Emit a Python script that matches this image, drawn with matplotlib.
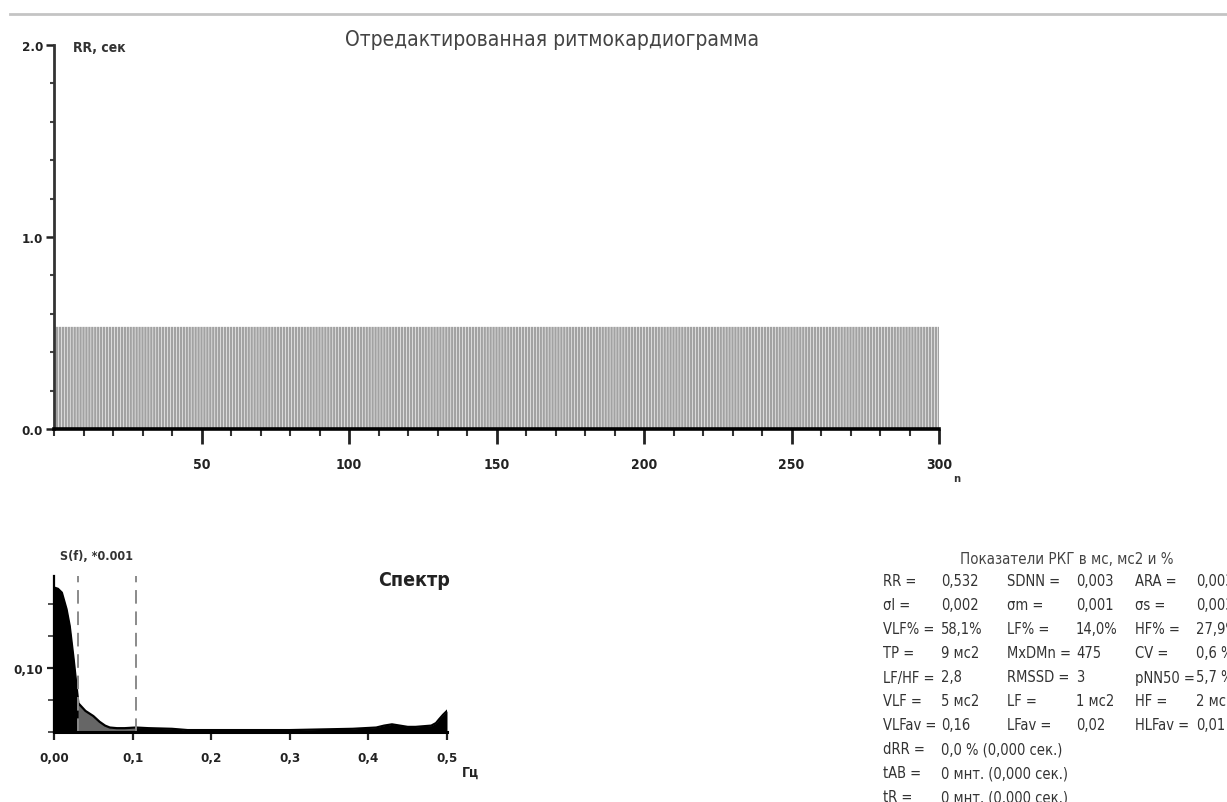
import matplotlib
matplotlib.use("Agg")
import matplotlib.pyplot as plt
from matplotlib import font_manager
from matplotlib.font_manager import FontProperties
from matplotlib.lines import Line2D
from matplotlib.ticker import MultipleLocator, FixedLocator
import numpy as np

W, H = 1227, 803

# pick a narrow face for the labels if one is installed
files = sorted(f.fname for f in font_manager.fontManager.ttflist)
narrow_reg = [p for p in files if ('Condensed' in p or 'Narrow' in p)
              and 'Bold' not in p and 'Oblique' not in p and 'Italic' not in p]
narrow_bold = [p for p in files if ('Condensed' in p or 'Narrow' in p)
               and 'Bold' in p and 'Oblique' not in p and 'Italic' not in p]
if narrow_reg and narrow_bold:
    REG = FontProperties(fname=narrow_reg[0])
    BOLD = FontProperties(fname=narrow_bold[0])
    K = 1.0
else:
    REG = FontProperties(family='Liberation Sans')
    BOLD = FontProperties(family='Liberation Sans', weight='bold')
    K = 0.82


def font(base, size):
    fp = base.copy()
    fp.set_size(size * K)
    return fp


# RR intervals in seconds, one bar per beat (flat at the mean RR)
beat_no = list(range(1, 301))
rr_sec = [0.532] * 300

# Spectrum S(f), in units of 0.001
freq_hz = [0.000, 0.005, 0.010, 0.016, 0.020, 0.025, 0.031, 0.040, 0.050, 0.058,
           0.065, 0.071, 0.080, 0.090, 0.104, 0.120, 0.150, 0.170, 0.200, 0.250,
           0.300, 0.340, 0.380, 0.410, 0.420, 0.430, 0.440, 0.450, 0.460, 0.470,
           0.480, 0.486, 0.490, 0.495, 0.500]
power = [0.226, 0.224, 0.218, 0.192, 0.166, 0.114, 0.045, 0.033, 0.025, 0.016,
         0.010, 0.007, 0.006, 0.006, 0.007, 0.006, 0.005, 0.003, 0.003, 0.003,
         0.003, 0.004, 0.005, 0.007, 0.010, 0.012, 0.010, 0.008, 0.008, 0.009,
         0.010, 0.014, 0.020, 0.027, 0.033]
vlf_edge, lf_edge = 0.031, 0.104

rr_xticks = [50, 100, 150, 200, 250, 300]
rr_yticks = [0.0, 1.0, 2.0]
rr_ylabels = ['0.0', '1.0', '2.0']
spec_xticks = [0.0, 0.1, 0.2, 0.3, 0.4, 0.5]
spec_xlabels = ['0,00', '0,1', '0,2', '0,3', '0,4', '0,5']
spec_yticks = [0.10]
spec_ylabels = ['0,10']

stat_title = 'Показатели РКГ в мс, мс2 и %'
stat_rows = [
    ['RR =', '0,532', 'SDNN =', '0,003', 'ARA =', '0,003'],
    ['σl =', '0,002', 'σm =', '0,001', 'σs =', '0,003'],
    ['VLF% =', '58,1%', 'LF% =', '14,0%', 'HF% =', '27,9%'],
    ['TP =', '9 мс2', 'MxDMn =', '475', 'CV =', '0,6 %'],
    ['LF/HF =', '2,8', 'RMSSD =', '3', 'pNN50 =', '5,7 %'],
    ['VLF =', '5 мс2', 'LF =', '1 мс2', 'HF =', '2 мс2'],
    ['VLFav =', '0,16', 'LFav =', '0,02', 'HLFav =', '0,01'],
    ['dRR =', '0,0 % (0,000 сек.)'],
    ['tAB =', '0 мнт. (0,000 сек.)'],
    ['tR =', '0 мнт. (0,000 сек.)'],
]


def fx(px):
    return px / W


def fy(py):
    return 1 - py / H


fig = plt.figure(figsize=(W / 100, H / 100), dpi=100)
fig.patch.set_facecolor('white')

# thin grey rule across the top
fig.add_artist(Line2D([fx(10), 1.0], [fy(15), fy(15)], color='#c4c4c4', lw=2))

# ---- rhythmogram ----
ax = fig.add_axes([fx(54), fy(430), fx(939 - 54), (430 - 46) / H])
bars = ax.bar(beat_no, rr_sec, width=0.8, color='#a2a2a2', linewidth=0)
for b in bars:
    b.set_snap(False)
ax.set_xlim(0, 300)
ax.set_ylim(0, 2.0)
for s in ['top', 'right']:
    ax.spines[s].set_visible(False)
ax.spines['bottom'].set_linewidth(2.6)
ax.spines['left'].set_linewidth(2.0)
ax.spines['left'].set_color('#333333')
ax.xaxis.set_major_locator(FixedLocator(rr_xticks))
ax.xaxis.set_minor_locator(MultipleLocator(10))
ax.set_xticklabels([str(t) for t in rr_xticks])
ax.yaxis.set_major_locator(FixedLocator(rr_yticks))
ax.yaxis.set_minor_locator(MultipleLocator(0.2))
ax.set_yticklabels(rr_ylabels)
ax.tick_params(axis='x', which='major', length=11, width=2, pad=9, colors='#222222')
ax.tick_params(axis='x', which='minor', length=5, width=1.5, colors='#333333')
ax.tick_params(axis='y', which='major', length=6, width=1.8, pad=2, colors='#222222')
ax.tick_params(axis='y', which='minor', length=3, width=1.5, colors='#444444')
for lab in ax.get_xticklabels():
    lab.set_fontproperties(font(BOLD, 10))
for lab in ax.get_yticklabels():
    lab.set_fontproperties(font(BOLD, 9.5))

fig.text(fx(552), fy(40), 'Отредактированная ритмокардиограмма', ha='center',
         va='center', fontproperties=font(REG, 15), color='#444444')
fig.text(fx(73), fy(48), 'RR, сек', ha='left', va='center',
         fontproperties=font(BOLD, 10), color='#333333')
fig.text(fx(953), fy(479), 'n', ha='left', va='center',
         fontproperties=font(BOLD, 8), color='#333333')

# ---- spectrum ----
sx = fig.add_axes([fx(54), fy(733), fx(447 - 54), (733 - 577) / H])
f = np.array(freq_hz)
p = np.array(power)
sx.fill_between(f, 0, p, where=f <= vlf_edge, color='black', lw=0)
sx.fill_between(f, 0, p, where=(f >= vlf_edge) & (f <= lf_edge), color='#666666', lw=0)
sx.fill_between(f, 0, p, where=f >= lf_edge, color='black', lw=0)
sx.plot(f, p, color='black', lw=1.6)
for edge in [vlf_edge, lf_edge]:
    sx.axvline(edge, color='#8a8a8a', lw=1.4, ls=(0, (7, 4)))
sx.set_xlim(0, 0.5)
sx.set_ylim(0, 0.244)
for s in ['top', 'right']:
    sx.spines[s].set_visible(False)
sx.spines['bottom'].set_linewidth(2.2)
sx.spines['left'].set_linewidth(1.6)
sx.xaxis.set_major_locator(FixedLocator(spec_xticks))
sx.set_xticklabels(spec_xlabels)
sx.yaxis.set_major_locator(FixedLocator(spec_yticks))
sx.yaxis.set_minor_locator(MultipleLocator(0.05))
sx.set_yticklabels(spec_ylabels)
sx.tick_params(axis='x', which='major', length=6, width=1.6, pad=8, colors='#222222')
sx.tick_params(axis='y', which='major', length=5, width=1.6, pad=3, colors='#222222')
sx.tick_params(axis='y', which='minor', length=4, width=1.2, colors='#333333')
for lab in sx.get_xticklabels():
    lab.set_fontproperties(font(BOLD, 9.5))
for lab in sx.get_yticklabels():
    lab.set_fontproperties(font(BOLD, 9.5))

fig.text(fx(60), fy(557), 'S(f), *0.001', ha='left', va='center',
         fontproperties=font(BOLD, 9), color='#333333')
fig.text(fx(414), fy(581), 'Спектр', ha='center', va='center',
         fontproperties=font(BOLD, 14), color='#222222')
fig.text(fx(462), fy(773), 'Гц', ha='left', va='center',
         fontproperties=font(BOLD, 10), color='#222222')

# ---- summary table ----
fig.text(fx(1067), fy(560), stat_title, ha='center', va='center',
         fontproperties=font(REG, 10.8), color='#444444')
col_x = [883, 941, 1007, 1076, 1135, 1196]
for i, row in enumerate(stat_rows):
    y = 582 + i * 24
    for j, cell in enumerate(row):
        fig.text(fx(col_x[j]), fy(y), cell, ha='left', va='center',
                 fontproperties=font(REG, 10.5), color='#333333')

fig.savefig('out.png', dpi=100, facecolor='white')
